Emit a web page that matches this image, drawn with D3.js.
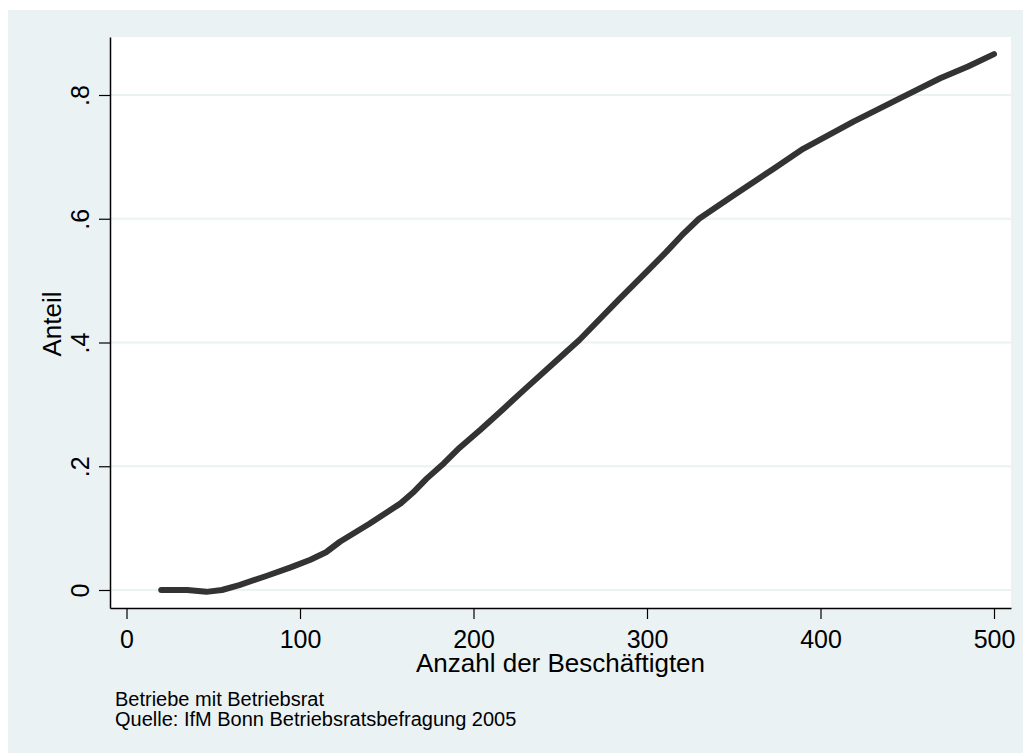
<!DOCTYPE html>
<html>
<head>
<meta charset="utf-8">
<script src="https://cdn.jsdelivr.net/npm/d3@7"></script>
<style>
  body { margin: 0; background: #ffffff; }
  svg { display: block; font-family: "Liberation Sans", Arial, sans-serif; }
</style>
</head>
<body>
<div id="chart"></div>
<script>
// Anzahl der Beschäftigten (x) and smoothed share with Betriebsrat (y)
var employees = [20, 35, 46, 55, 65, 81, 95, 106, 115, 123, 140, 158, 165, 173, 183, 192,
  204, 215, 229, 246, 261, 284, 300, 311, 320, 330, 350, 373, 390, 419, 446, 469, 485, 500];
var share = [0, 0, -0.003, 0, 0.008, 0.023, 0.037, 0.049, 0.061, 0.078, 0.107, 0.140, 0.157,
  0.180, 0.205, 0.230, 0.259, 0.287, 0.323, 0.366, 0.404, 0.470, 0.515, 0.546, 0.573, 0.600,
  0.638, 0.681, 0.713, 0.757, 0.795, 0.827, 0.846, 0.866];

var xTicks = [0, 100, 200, 300, 400, 500];
var yTicks = [0, 0.2, 0.4, 0.6, 0.8];
var yTickLabels = ["0", ".2", ".4", ".6", ".8"];

var xTitle = "Anzahl der Beschäftigten";
var yTitle = "Anteil";
var notes = ["Betriebe mit Betriebsrat", "Quelle: IfM Bonn Betriebsratsbefragung 2005"];

// SVG area
var svgWidth = 1023;
var svgHeight = 753;

// plot region in page pixels
var plot = { left: 110, right: 1011, top: 37, bottom: 608 };

var svg = d3.select("#chart")
  .append("svg")
  .attr("width", svgWidth)
  .attr("height", svgHeight);

// graph region background
svg.append("rect")
  .attr("x", 8)
  .attr("y", 10)
  .attr("width", svgWidth - 8)
  .attr("height", svgHeight - 10)
  .attr("fill", "#eaf2f3");

// plot region
svg.append("rect")
  .attr("x", plot.left)
  .attr("y", plot.top)
  .attr("width", plot.right - plot.left)
  .attr("height", plot.bottom - plot.top)
  .attr("fill", "#ffffff");

// scales: 0 -> 126.5px, 500 -> 994px ; 0 -> 590px, .8 -> 95px
var xPerUnit = (994 - 126.5) / 500;
var yPerUnit = (590 - 95) / 0.8;
var xScale = d3.scaleLinear()
  .domain([(plot.left - 126.5) / xPerUnit, (plot.right - 126.5) / xPerUnit])
  .range([plot.left, plot.right]);
var yScale = d3.scaleLinear()
  .domain([(590 - plot.bottom) / yPerUnit, (590 - plot.top) / yPerUnit])
  .range([plot.bottom, plot.top]);

// gridlines
svg.append("g")
  .selectAll("line")
  .data(yTicks)
  .enter()
  .append("line")
  .attr("x1", plot.left)
  .attr("x2", plot.right)
  .attr("y1", d => yScale(d))
  .attr("y2", d => yScale(d))
  .attr("stroke", "#eaf2f3")
  .attr("stroke-width", 2);

// the curve
var points = employees.map((e, i) => [e, share[i]]);
var line = d3.line()
  .x(d => xScale(d[0]))
  .y(d => yScale(d[1]))
  .curve(d3.curveLinear);

svg.append("path")
  .datum(points)
  .attr("d", line)
  .attr("fill", "none")
  .attr("stroke", "#333333")
  .attr("stroke-width", 6)
  .attr("stroke-linecap", "round")
  .attr("stroke-linejoin", "round");

// x axis
var xAxis = svg.append("g")
  .attr("transform", `translate(0, ${plot.bottom})`)
  .call(d3.axisBottom(xScale).tickValues(xTicks).tickSize(11).tickSizeOuter(0).tickFormat(d3.format("d")));

xAxis.select(".domain").attr("stroke-width", 1.5);
xAxis.selectAll(".tick line").attr("stroke-width", 1.2);
xAxis.selectAll(".tick text")
  .attr("y", 40)
  .attr("dy", 0)
  .attr("fill", "#000")
  .style("font-size", "25px");

// y axis
var yAxis = svg.append("g")
  .attr("transform", `translate(${plot.left}, 0)`)
  .call(d3.axisLeft(yScale).tickValues(yTicks).tickSize(11).tickSizeOuter(0)
    .tickFormat((d, i) => yTickLabels[i]));

yAxis.select(".domain").attr("stroke-width", 1.5);
yAxis.selectAll(".tick line").attr("stroke-width", 1.2);
yAxis.selectAll(".tick text")
  .attr("transform", "rotate(-90)")
  .attr("x", 0)
  .attr("y", -21)
  .attr("dy", 0)
  .attr("text-anchor", "middle")
  .attr("fill", "#000")
  .style("font-size", "25px");

// axis titles
svg.append("text")
  .attr("x", (plot.left + plot.right) / 2)
  .attr("y", 672)
  .attr("text-anchor", "middle")
  .style("font-size", "26px")
  .text(xTitle);

svg.append("text")
  .attr("transform", `translate(61, ${(plot.top + plot.bottom) / 2 + 1.5}) rotate(-90)`)
  .attr("text-anchor", "middle")
  .style("font-size", "26px")
  .text(yTitle);

// notes
svg.append("g")
  .selectAll("text")
  .data(notes)
  .enter()
  .append("text")
  .attr("x", 115)
  .attr("y", (d, i) => 706 + i * 20)
  .style("font-size", "20px")
  .text(d => d);
</script>
</body>
</html>
